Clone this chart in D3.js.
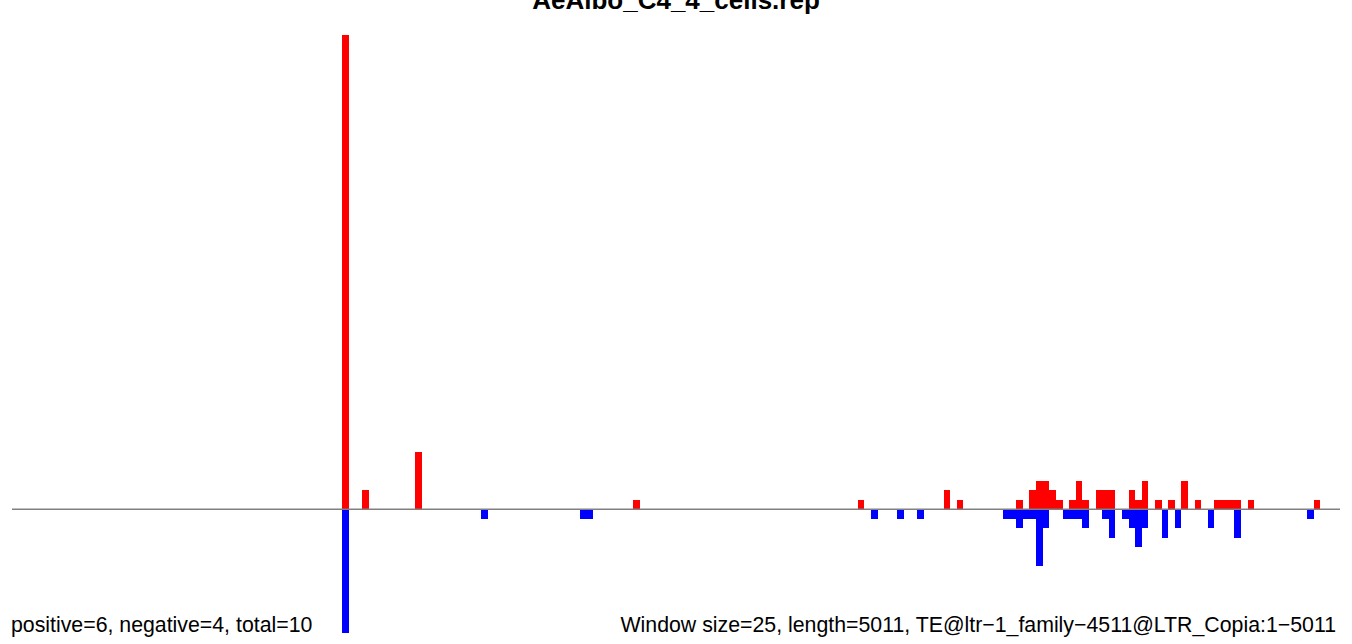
<!DOCTYPE html>
<html>
<head>
<meta charset="utf-8">
<script src="https://cdn.jsdelivr.net/npm/d3@7"></script>
<style>
  html, body { margin: 0; padding: 0; background: #fff; }
  svg { display: block; }
  text { font-family: "Liberation Sans", Arial, Helvetica, sans-serif; }
</style>
</head>
<body>
<svg id="chart" width="1352" height="644"></svg>
<script>
// ---- data (window index -> count) ----
const nBins = 201;
const posBins   = [50, 53, 61, 94, 128, 141, 143, 152, 154, 155, 156, 157, 158, 160, 161, 162, 164, 165, 166, 169, 170, 171, 173, 175, 177, 179, 182, 183, 184, 185, 187, 197];
const posValues = [50,  2,  6,  1,   1,   2,   1,   1,   2,   3,   3,   2,   1,   1,   3,   1,   2,   2,   2,   2,   1,   3,   1,   1,   3,   1,   1,   1,   1,   1,   1,   1];
const negBins   = [50, 71, 86, 87, 130, 134, 137, 150, 151, 152, 153, 154, 155, 156, 159, 160, 161, 162, 165, 166, 168, 169, 170, 171, 174, 176, 181, 185, 196];
const negValues = [13,  1,  1,  1,   1,   1,   1,   1,   1,   2,   1,   1,   6,   2,   1,   1,   1,   2,   1,   3,   1,   2,   4,   2,   3,   2,   2,   3,   1];
const titleText = "AeAlbo_C4_4_cells.rep";
const leftNote  = "positive=6, negative=4, total=10";
const rightNote = "Window size=25, length=5011, TE@ltr\u22121_family\u22124511@LTR_Copia:1\u22125011";

const svg = d3.select("#chart");
const x = d3.scaleLinear().domain([0, nBins]).range([12, 1340]);
const y = d3.scaleLinear().domain([-13, 50]).range([632.7, 35]);
const bw = x(1) - x(0);

const pos = posBins.map((b, i) => ({ bin: b, v: posValues[i] }));
const neg = negBins.map((b, i) => ({ bin: b, v: negValues[i] }));

svg.append("g").selectAll("rect").data(pos).join("rect")
  .attr("x", d => x(d.bin))
  .attr("width", bw)
  .attr("y", d => y(d.v))
  .attr("height", d => y(0) - y(d.v))
  .attr("fill", "#ff0000")
  .attr("shape-rendering", "crispEdges");

svg.append("g").selectAll("rect").data(neg).join("rect")
  .attr("x", d => x(d.bin))
  .attr("width", bw)
  .attr("y", y(0))
  .attr("height", d => y(-d.v) - y(0))
  .attr("fill", "#0000ff")
  .attr("shape-rendering", "crispEdges");

svg.append("line")
  .attr("x1", x(0)).attr("x2", x(nBins))
  .attr("y1", y(0)).attr("y2", y(0))
  .attr("stroke", "#808080")
  .attr("stroke-width", 1.5);

svg.append("text")
  .attr("x", 676).attr("y", 9)
  .attr("text-anchor", "middle")
  .attr("font-weight", "bold")
  .attr("font-size", 26)
  .attr("fill", "#000")
  .text(titleText);

svg.append("text")
  .attr("x", 11).attr("y", 632)
  .attr("font-size", 21.3)
  .attr("fill", "#000")
  .text(leftNote);

svg.append("text")
  .attr("x", 1336).attr("y", 632)
  .attr("text-anchor", "end")
  .attr("font-size", 21.3)
  .attr("fill", "#000")
  .text(rightNote);
</script>
</body>
</html>
